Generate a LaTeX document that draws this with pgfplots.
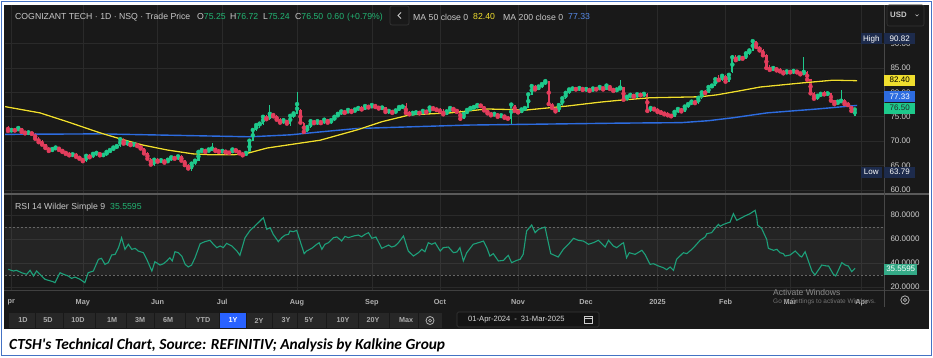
\documentclass[border=0pt]{standalone}
\usepackage{pgfplots}
\pgfplotsset{compat=1.18}
\usepackage{pgfplotstable}
\usepackage{fontspec}
\setmainfont{Liberation Sans}
\newfontfamily\capfont{Carlito}
\definecolor{bg}{HTML}{191919}
\definecolor{gridc}{HTML}{2A2A2A}
\definecolor{upc}{HTML}{1EC98B}
\definecolor{dnc}{HTML}{E23D5C}
\definecolor{ma50}{HTML}{F0DE2E}
\definecolor{ma200}{HTML}{2D6CE0}
\definecolor{rsic}{HTML}{1DA07A}
\definecolor{hdr}{HTML}{C8C8C8}
\definecolor{hgreen}{HTML}{22B573}
\definecolor{navy}{HTML}{1D2B4C}
\definecolor{frame}{HTML}{4472C4}
\definecolor{btn}{HTML}{272727}
\definecolor{btnblue}{HTML}{2962FF}
\definecolor{lbl}{HTML}{CFCFCF}
\definecolor{mlbl}{HTML}{B0B0B0}
\definecolor{sep}{HTML}{5A5A5A}

\pgfplotstableread{
i o h l c
1 72.1 72.5 71.8 72.3
3 72.2 72.9 72.0 72.7
6 71.6 72.0 71.3 71.8
13 68.0 68.6 67.7 68.4
14 68.4 68.9 68.2 68.7
19 67.1 67.6 66.8 67.3
23 65.9 67.2 65.8 67.0
25 66.8 67.6 66.6 67.4
26 67.4 67.8 67.0 67.6
28 67.1 67.5 66.8 67.2
29 67.2 67.9 67.0 67.8
30 67.8 68.4 67.6 68.2
31 68.2 68.9 68.0 68.7
32 68.7 69.2 68.3 69.0
33 69.0 70.8 68.9 70.4
35 69.5 69.9 69.1 69.7
37 69.2 69.6 68.9 69.4
43 65.2 66.4 65.0 66.2
45 65.8 66.3 65.5 66.1
47 65.6 66.4 65.5 66.2
48 66.2 66.9 66.0 66.7
50 66.4 67.1 66.2 66.9
54 64.4 65.6 63.79 65.4
55 65.5 66.2 65.2 66.0
56 66.0 68.0 65.9 67.8
57 67.8 68.6 67.5 68.2
59 67.8 68.5 67.7 68.3
60 68.3 69.6 68.0 68.5
63 67.8 68.2 67.5 68.0
66 67.6 68.4 67.5 68.3
70 67.2 68.0 66.9 67.6
71 67.6 70.3 67.5 70.1
72 70.1 72.6 70.0 72.3
73 72.3 73.6 72.0 73.3
74 73.3 74.0 72.8 73.6
75 73.6 75.2 73.4 75.0
77 74.5 77.4 74.3 75.6
81 73.8 74.5 73.5 74.3
83 73.6 75.4 73.2 75.2
84 75.0 75.9 74.8 75.7
85 75.7 80.1 75.5 77.6
88 72.0 73.0 71.8 72.9
89 72.9 74.4 72.8 74.1
91 73.5 74.3 73.3 74.1
93 73.7 74.6 73.6 74.4
95 73.8 74.5 73.6 74.3
96 74.3 75.2 74.1 75.0
97 75.0 75.8 74.9 75.6
98 75.6 76.3 75.4 76.1
100 75.8 76.6 75.7 76.4
102 76.0 76.7 75.9 76.5
103 76.5 77.0 76.2 76.8
105 76.5 77.4 76.4 77.2
107 76.9 77.6 76.7 77.4
110 76.7 77.2 76.3 76.9
112 76.0 76.4 75.6 76.2
114 75.8 76.5 75.6 76.3
115 76.3 77.2 76.1 77.0
116 77.0 77.3 76.8 77.1
119 75.5 76.0 75.3 75.8
120 75.8 76.2 75.4 75.9
122 75.7 76.4 75.6 76.2
124 75.9 77.1 75.8 76.9
129 75.5 76.3 75.4 76.1
130 76.1 77.0 75.9 76.8
134 74.6 75.8 74.5 75.6
135 75.6 76.6 75.5 76.4
136 76.4 77.0 76.2 76.8
137 76.8 77.2 76.5 77.0
138 76.9 77.6 76.7 77.4
143 75.3 75.9 75.1 75.6
145 75.0 75.5 74.7 75.3
148 74.6 77.8 73.3 77.5
151 75.9 76.7 75.8 76.5
152 76.5 77.0 76.2 76.8
153 76.8 79.8 76.7 79.6
154 79.6 81.6 79.4 81.3
156 80.6 81.4 80.4 81.2
157 81.2 81.9 81.0 81.7
158 81.7 82.6 81.5 82.3
162 76.1 77.6 76.0 77.4
163 77.4 79.0 77.3 78.8
164 78.8 80.2 78.6 79.9
165 79.9 80.8 79.7 80.6
166 80.6 81.0 80.3 80.8
168 80.6 81.1 80.2 80.9
170 80.5 80.9 80.0 80.7
172 80.3 80.9 80.2 80.8
174 80.6 81.3 80.5 81.1
176 80.6 81.6 80.5 81.4
179 80.3 80.8 80.1 80.6
180 80.6 82.5 80.4 81.0
182 78.5 79.3 78.3 79.1
183 79.1 79.7 78.9 79.5
185 79.1 79.8 78.8 79.6
187 79.4 80.0 79.1 79.7
189 76.4 77.3 76.0 76.8
196 75.1 76.2 75.0 76.0
197 76.0 76.8 75.8 76.6
199 76.1 77.3 76.0 77.1
200 77.1 77.8 76.9 77.6
201 77.6 78.3 77.4 78.1
203 77.8 79.1 77.7 78.9
204 78.9 80.2 78.7 80.0
206 79.9 81.3 79.8 81.1
207 81.1 81.6 80.8 81.4
208 81.4 82.9 81.3 82.7
210 82.5 83.6 82.3 83.4
212 82.2 83.9 82.1 83.6
213 84.2 87.6 84.0 87.2
215 86.6 87.5 86.4 87.2
217 86.9 88.3 86.8 88.0
218 88.0 88.9 87.7 88.6
219 88.6 90.82 88.4 90.5
225 84.6 85.3 84.4 85.0
229 83.9 84.5 83.7 84.3
231 84.1 84.5 83.8 84.4
234 83.7 87.3 83.5 84.2
238 78.7 79.6 78.5 79.3
239 79.3 80.0 79.1 79.7
241 79.6 80.0 79.3 79.8
244 77.6 78.4 77.4 78.1
245 78.1 80.5 77.8 78.3
249 75.25 76.72 75.24 76.50
}\upT

\pgfplotstableread{
i o h l c
0 72.9 73.2 71.9 72.1
2 72.3 72.6 72.0 72.2
4 72.6 72.8 71.8 71.9
5 71.9 72.1 71.4 71.6
7 71.7 71.9 71.2 71.5
8 71.5 71.6 70.3 70.5
9 70.5 70.8 69.6 69.8
10 69.9 70.2 69.0 69.3
11 69.3 69.5 68.4 68.6
12 68.6 68.9 67.8 68.0
15 68.7 68.8 68.0 68.2
16 68.2 68.4 67.6 67.8
17 67.8 68.0 67.2 67.4
18 67.4 67.7 66.9 67.1
20 67.3 67.5 66.6 66.8
21 66.8 67.0 66.2 66.4
22 66.4 66.6 65.6 65.9
24 67.0 67.4 66.5 66.7
27 67.6 67.7 66.9 67.1
34 70.4 70.6 69.3 69.5
36 69.6 69.8 69.0 69.2
38 69.4 69.6 68.8 69.0
39 69.0 69.2 68.3 68.5
40 68.5 68.7 67.3 67.5
41 67.5 67.8 66.2 66.4
42 66.4 66.6 64.9 65.2
44 66.2 66.5 65.6 65.8
46 66.1 66.3 65.4 65.6
49 66.7 67.0 66.2 66.4
51 66.9 67.1 65.8 66.0
52 66.0 66.2 64.9 65.1
53 65.1 65.3 64.2 64.4
58 68.2 68.4 67.6 67.8
61 68.5 68.7 67.9 68.0
62 68.0 68.3 67.6 67.8
64 68.0 68.2 67.6 67.7
65 67.7 68.0 67.4 67.6
67 68.3 68.5 67.8 68.0
68 68.0 68.1 67.3 67.5
69 67.5 67.8 66.9 67.1
76 75.0 75.3 74.2 74.5
78 75.6 75.8 74.9 75.1
79 75.1 75.3 74.2 74.4
80 74.4 74.8 73.6 73.8
82 74.3 74.4 73.4 73.6
86 76.3 76.6 73.5 73.8
87 73.6 74.0 71.6 71.9
90 74.1 74.3 73.5 73.7
92 74.1 74.3 73.5 73.7
94 74.4 74.6 73.5 73.8
99 76.1 76.3 75.6 75.8
101 76.4 76.6 75.8 76.0
104 76.8 77.3 76.3 76.5
106 77.2 77.5 76.7 76.9
108 77.4 77.6 76.8 77.0
109 77.0 77.3 76.5 76.7
111 76.9 77.0 75.8 76.0
113 76.2 76.4 75.5 75.8
117 77.1 77.8 75.6 75.8
118 75.8 76.1 75.3 75.5
121 75.9 76.1 75.5 75.7
123 76.2 76.3 75.7 75.9
125 76.9 77.3 76.4 76.6
126 76.6 76.9 76.2 76.4
127 76.4 76.7 75.8 76.1
128 76.1 76.5 75.3 75.5
131 76.8 76.9 76.2 76.4
132 76.4 76.6 75.8 76.0
133 76.0 76.3 74.2 74.6
139 77.4 77.7 77.0 77.2
140 77.2 77.3 76.1 76.3
141 76.3 76.5 75.5 75.7
142 75.7 75.9 75.0 75.3
144 75.6 75.7 74.8 75.0
146 75.3 75.4 74.6 74.8
147 74.8 75.2 74.3 74.6
149 77.3 77.5 76.0 76.2
150 76.2 76.6 75.7 75.9
155 81.3 81.6 80.4 80.6
159 82.3 82.4 77.3 77.6
160 77.6 77.9 76.6 76.8
161 76.8 77.1 75.8 76.1
167 80.8 81.0 80.4 80.6
169 80.9 81.0 80.3 80.5
171 80.7 80.8 80.1 80.3
173 80.8 81.0 80.4 80.6
175 81.1 81.2 80.4 80.6
177 81.4 81.5 80.5 80.7
178 80.7 81.0 80.1 80.3
181 81.0 81.1 78.2 78.5
184 79.5 79.6 78.9 79.1
186 79.6 79.9 79.2 79.4
188 79.7 79.8 75.8 76.2
190 76.8 77.0 76.2 76.5
191 76.5 76.8 75.8 76.0
192 76.0 76.3 75.5 75.8
193 75.8 76.0 75.3 75.5
194 75.5 75.9 75.1 75.3
195 75.3 75.5 74.9 75.1
198 76.6 76.7 75.9 76.1
202 78.1 78.4 77.6 77.8
205 80.0 80.4 79.6 79.9
209 82.7 83.6 82.3 82.5
211 83.4 83.5 82.0 82.2
214 87.2 87.6 86.3 86.6
216 87.2 87.5 86.7 86.9
220 90.5 90.6 89.0 89.3
221 89.3 89.5 88.3 88.6
222 88.6 88.9 87.3 87.6
223 87.6 87.8 84.7 85.0
224 85.0 85.6 84.3 84.6
226 85.0 85.2 84.3 84.5
227 84.5 84.9 84.0 84.3
228 84.3 84.6 83.7 83.9
230 84.3 84.6 83.9 84.1
232 84.4 84.6 83.9 84.1
233 84.1 84.2 83.4 83.7
235 84.2 84.3 82.3 82.6
236 82.6 82.7 79.5 79.8
237 79.8 80.1 78.4 78.7
240 79.7 80.2 79.3 79.6
242 79.8 79.9 78.0 78.3
243 78.3 78.5 77.3 77.6
246 78.3 78.6 77.3 77.6
247 77.6 78.0 77.1 77.4
248 77.4 77.5 75.9 76.2
}\dnT

\pgfplotstableread{
x m
-1 77.1
9.4 75.8
17.4 74.0
27.1 71.7
32.9 70.5
39.7 69.2
46.8 68.2
54.4 67.4
60 67.2
66.2 67.2
70.3 67.5
76.2 68.6
85.9 69.6
91.8 70.2
102.6 72.3
110 74.0
118.2 75.4
130 75.8
140.9 76.6
152.6 76.4
164.4 77.2
174.1 78.0
180 78.4
188.8 78.9
203.5 79.1
208.5 79.5
215 80.3
221.2 81.1
232.9 81.9
242.6 82.5
249.7 82.4
}\maFifty

\pgfplotstableread{
x m
-1 71.4
27 71.5
56.5 71.1
71.2 70.9
83 71.3
91.8 71.9
102.6 72.6
135 73.3
180 73.7
198 73.8
206 74.2
213.2 74.8
223.2 75.8
238 76.6
249.7 77.33
}\maTwoH

\pgfplotstableread{
x r
0.1 34.7
1.6 33.3
2.5 33.9
4.0 31.9
5.5 30.6
6.5 33.9
7.5 29.2
8.4 33.3
9.4 30.6
10.9 26.4
13.3 24.4
13.8 23.6
15.3 31.9
16.3 30.6
17.7 29.2
18.7 27.2
19.7 28.3
21.2 26.4
22.6 23.6
23.6 31.9
25.1 33.3
26.6 43.1
27.5 43.9
28.5 38.9
29.5 40.3
30.5 46.7
31.5 47.2
32.5 52.8
33.4 61.1
34.4 51.4
35.4 55.6
36.4 51.4
37.4 52.2
38.3 50.0
39.8 48.6
40.8 43.1
42.3 33.3
43.2 41.1
44.7 38.3
45.7 39.4
46.7 41.7
47.6 44.4
48.3 41.7
49.1 49.4
50.1 48.6
51.1 45.8
52.1 38.9
53.0 36.7
54.0 38.3
55.0 44.4
56.5 56.1
57.9 57.8
59.4 58.9
60.4 55.6
61.4 52.8
62.4 54.2
63.3 52.8
64.3 56.4
65.8 54.2
67.3 50.0
68.2 46.4
69.7 61.1
71.2 67.2
72.6 70.8
73.6 73.6
75.1 77.8
76.1 68.1
77.1 69.4
78.0 63.9
79.5 57.8
80.5 61.1
81.5 63.3
82.5 63.9
82.9 66.7
83.9 66.1
84.9 67.2
85.9 58.3
87.1 47.8
87.8 50.0
89.3 52.2
90.8 55.6
91.5 56.9
92.3 51.4
93.2 55.6
94.2 56.9
95.7 61.1
96.7 61.7
97.6 59.7
98.1 58.3
99.1 62.2
100.1 61.1
101.6 62.5
103.0 63.3
104.0 61.9
105.0 63.9
106.0 65.3
107.0 60.6
108.2 61.7
109.9 52.2
111.9 55.0
112.8 53.3
113.8 54.2
114.8 56.9
116.3 62.5
117.7 50.0
119.2 45.8
120.7 48.6
121.7 51.4
122.6 49.4
123.6 56.9
124.6 55.6
125.6 56.9
127.1 50.0
128.0 52.8
129.5 53.3
131.0 48.6
132.0 49.2
132.9 52.8
133.9 41.7
134.9 48.6
136.8 55.6
138.3 56.9
139.8 58.3
140.8 52.8
141.7 45.8
142.7 47.8
144.2 41.7
145.7 42.2
147.1 46.4
148.1 40.3
149.6 42.2
150.6 43.1
151.5 47.2
152.5 66.7
154.0 71.7
155.0 65.3
156.0 68.1
157.9 70.0
159.6 47.8
161.8 45.0
163.3 51.4
164.8 55.6
166.3 60.6
167.7 58.9
169.2 58.3
170.7 55.6
172.1 56.9
173.6 58.9
174.6 56.1
175.6 53.3
176.6 58.9
178.0 54.2
179.0 52.8
180.5 56.1
181.0 56.9
181.9 44.4
182.7 48.6
184.4 47.2
186.4 50.6
187.3 47.2
188.8 38.9
189.8 39.4
191.3 37.5
192.7 36.1
193.7 34.4
194.7 36.7
195.7 33.9
196.6 43.1
198.6 48.6
199.6 47.8
201.1 51.4
202.5 55.6
203.5 58.9
205.0 61.7
205.5 64.4
206.9 65.3
207.9 68.9
208.9 72.2
209.4 70.6
210.4 72.2
211.8 73.6
212.3 73.9
213.3 81.1
214.3 75.6
215.8 77.8
216.7 79.2
218.2 81.1
219.7 83.9
220.2 77.8
220.4 71.7
221.6 68.9
223.1 59.7
223.6 52.2
225.1 50.6
226.1 51.4
227.0 48.6
228.0 47.8
228.5 45.8
230.0 46.7
231.5 50.0
232.9 45.8
233.4 45.0
234.4 49.4
236.4 33.3
237.3 30.0
239.3 38.3
240.8 37.5
241.3 37.5
242.7 30.6
243.4 29.2
245.2 40.3
246.2 38.3
247.1 37.5
248.1 32.8
249.1 35.56
}\rsiT

\pgfplotsset{
  chartaxis/.style={
    scale only axis, width=879pt,
    xmin=-0.88, xmax=257.6,
    axis line style={draw=none}, tick style={draw=none},
    major tick length=0pt,
    xtick={1,22,44,63,85,107,127,150,170,191,211,230,251},
    grid=major, major grid style={gridc, line width=0.6pt},
    yticklabel pos=right,
    yticklabel style={font=\fontsize{8}{9}\selectfont, text=lbl, xshift=3pt,
      /pgf/number format/assume math mode=true},
  },
  wick/.style={color=#1, draw=#1, only marks, mark=none,
    error bars/y dir=both, error bars/y explicit, error bars/error mark=none,
    error bars/error bar style={line width=0.75pt, color=#1, draw=#1}},
  body/.style={color=#1, draw=#1, only marks, mark=none,
    error bars/y dir=both, error bars/y explicit, error bars/error mark=none,
    error bars/error bar style={line width=2.3pt, color=#1, draw=#1}},
}

\begin{document}
\begin{tikzpicture}[x=1pt,y=1pt]
\path[use as bounding box] (0,0) rectangle (933,357);
\fill[white] (0,0) rectangle (933,357);
\fill[bg] (4,28) rectangle (929,352);

% ---------------- price panel ----------------
\begin{axis}[chartaxis, at={(5pt,164pt)}, anchor=south west, height=188pt,
  ymin=59.38, ymax=97.91, ytick={60,65,70,75,80,85,90},
  xticklabels={,,,,,,,,,,,,},
  yticklabel style={/pgf/number format/fixed, /pgf/number format/fixed zerofill, /pgf/number format/precision=2}]
  \addplot[wick=upc] table[x=i, y=c, y error plus expr=\thisrow{h}-\thisrow{c}, y error minus expr=\thisrow{c}-\thisrow{l}] {\upT};
  \addplot[body=upc] table[x=i, y expr=0.5*(\thisrow{o}+\thisrow{c}), y error expr=0.5*abs(\thisrow{c}-\thisrow{o})+0.05] {\upT};
  \addplot[wick=dnc] table[x=i, y=c, y error plus expr=\thisrow{h}-\thisrow{c}, y error minus expr=\thisrow{c}-\thisrow{l}] {\dnT};
  \addplot[body=dnc] table[x=i, y expr=0.5*(\thisrow{o}+\thisrow{c}), y error expr=0.5*abs(\thisrow{c}-\thisrow{o})+0.05] {\dnT};
  \addplot[ma200, line width=1.4pt, mark=none] table[x=x, y=m] {\maTwoH};
  \addplot[black, line width=2.3pt, mark=none, opacity=0.45] table[x=x, y=m] {\maFifty};
  \addplot[ma50, line width=1.3pt, mark=none] table[x=x, y=m] {\maFifty};
\end{axis}

% ---------------- RSI panel ----------------
\begin{axis}[chartaxis, at={(5pt,66pt)}, anchor=south west, height=96pt,
  ymin=16.67, ymax=96.67, ytick={20,40,60,80},
  xticklabels={pr,May,Jun,Jul,Aug,Sep,Oct,Nov,Dec,2025,Feb,Mar,Apr},
  xticklabel style={font=\bfseries\fontsize{7.3}{8}\selectfont, text=mlbl, yshift=-5pt},
  yticklabel style={/pgf/number format/fixed, /pgf/number format/fixed zerofill, /pgf/number format/precision=4}]
  \fill[white, fill opacity=0.05] (axis cs:-1,30) rectangle (axis cs:258,70);
  \draw[white!40!black, dash pattern=on 2pt off 2pt, line width=0.6pt] (axis cs:-1,30) -- (axis cs:258,30);
  \draw[white!40!black, dash pattern=on 2pt off 2pt, line width=0.6pt] (axis cs:-1,70) -- (axis cs:258,70);
  \addplot[rsic, line width=1.1pt, mark=none] table[x=x, y=r] {\rsiT};
\end{axis}

% separators
\fill[sep] (4,162) rectangle (929,164.2);
\draw[black!75!white, line width=0.5pt] (4,66.5) -- (929,66.5);
\draw[white!28!black, line width=0.8pt] (884,352) -- (884,50);

% header
\tikzset{htxt/.style={anchor=west, inner sep=0pt, font=\fontsize{8.7}{10}\selectfont, text=hdr}}
\node[htxt] at (15,340) {COGNIZANT TECH · 1D · NSQ · Trade Price};
\node[htxt] at (197,340) {O\textcolor{hgreen}{75.25}};
\node[htxt] at (230,340) {H\textcolor{hgreen}{76.72}};
\node[htxt] at (263,340) {L\textcolor{hgreen}{75.24}};
\node[htxt] at (295,340) {C\textcolor{hgreen}{76.50}};
\node[htxt, text=hgreen] at (327,340) {0.60};
\node[htxt, text=hgreen] at (347,340) {(+0.79\%)};
\draw[white!22!black, line width=0.6pt, rounded corners=2pt] (390,332) rectangle (409,351);
\draw[hdr, line width=0.8pt] (401,344.5) -- (398,341.5) -- (401,338.5);
\node[htxt] at (413,340) {MA 50 close 0};
\node[htxt, text=ma50] at (473,340) {82.40};
\node[htxt] at (503,340) {MA 200 close 0};
\node[htxt, text=ma200!80!white] at (568,340) {77.33};
% USD box
\draw[white!20!black, fill=black!90!white, line width=0.6pt, rounded corners=2pt] (887,331) rectangle (924,352);
\node[anchor=west, inner sep=0pt, font=\bfseries\fontsize{7.8}{9}\selectfont, text=hdr] at (890,342) {USD};
\draw[hdr, line width=0.6pt] (915.5,342.5) -- (917,341) -- (918.5,342.5);

% RSI title
\node[htxt] at (15,150) {RSI 14 Wilder Simple 9};
\node[htxt, text=hgreen] at (110,150) {35.5595};

% right-scale value labels
\tikzset{vbox/.style={anchor=west, inner sep=0pt, minimum width=31pt, minimum height=11pt, font=\fontsize{8}{9}\selectfont}}
\node[vbox, fill=navy, text=white] at (884,318) {90.82};
\node[anchor=east, inner sep=0pt, minimum width=21pt, minimum height=11pt, fill=navy, text=white, font=\fontsize{8}{9}\selectfont] at (882,318) {High};
\node[vbox, fill=ma50, text=black] at (884,277) {82.40};
\node[vbox, fill=ma200, text=white] at (884,260.5) {77.33};
\node[vbox, fill=upc, text=black!85] at (884,249) {76.50};
\node[vbox, fill=navy, text=white] at (884,185) {63.79};
\node[anchor=east, inner sep=0pt, minimum width=21pt, minimum height=11pt, fill=navy, text=white, font=\fontsize{8}{9}\selectfont] at (882,185) {Low};
\node[vbox, fill=rsic!90!white, text=white, minimum width=33pt] at (884,88) {35.5595};

% watermark
\node[anchor=west, inner sep=0pt, font=\fontsize{8.5}{10}\selectfont, text=white!55!black] at (773,65) {Activate Windows};
\node[anchor=west, inner sep=0pt, font=\fontsize{6.5}{8}\selectfont, text=white!45!black] at (773,55) {Go to Settings to activate Windows.};

% gear (right)
\draw[white!70!black, line width=0.8pt] (905,57) circle (4.2);
\draw[white!70!black, line width=0.7pt] (905,57) circle (1.6);

% toolbar buttons
\fill[btn] (9,29) rectangle (442,44);
\foreach \b in {35.5,63,95,126,154,185.5,219,246,272.5,297.5,326,358,389.5,418} {
  \draw[bg, line width=1pt] (\b,29) -- (\b,44);
}
\fill[btnblue] (220,29) rectangle (245.5,44);
\foreach \cx/\t in {23/1D,48/5D,78/10D,112/1M,140/3M,168/6M,203/YTD,259/2Y,286/3Y,309/5Y,343/10Y,373/20Y,406/Max} {
  \node[inner sep=0pt, font=\bfseries\fontsize{7.2}{8}\selectfont, text=white!68!black] at (\cx,36.5) {\t};
}
\node[inner sep=0pt, font=\bfseries\fontsize{7.2}{8}\selectfont, text=white] at (233,36.5) {1Y};
\draw[white!70!black, line width=0.8pt] (430,36.5) circle (4);
\draw[white!70!black, line width=0.7pt] (430,36.5) circle (1.5);

% date box
\draw[white!22!black, fill=black!92!white, line width=0.6pt, rounded corners=1.5pt] (457,30) rectangle (599,45);
\node[anchor=west, inner sep=0pt, font=\fontsize{7.6}{9}\selectfont, text=white!85!black] at (468,37.5) {01-Apr-2024\hspace{4pt}-\hspace{4pt}31-Mar-2025};
\draw[white!80!black, line width=0.6pt] (584,34) rectangle (592,41);
\draw[white!80!black, line width=0.6pt] (584,39) -- (592,39);

% caption
\node[anchor=west, inner sep=0pt, font=\capfont\bfseries\itshape\fontsize{15.4}{17}\selectfont, text=black] at (9,12)
 {CTSH's Technical Chart, Source: REFINITIV; Analysis by Kalkine Group};

% outer frame
\draw[frame, line width=1.3pt] (1.5,1.2) rectangle (931.5,355.8);
\end{tikzpicture}
\end{document}
